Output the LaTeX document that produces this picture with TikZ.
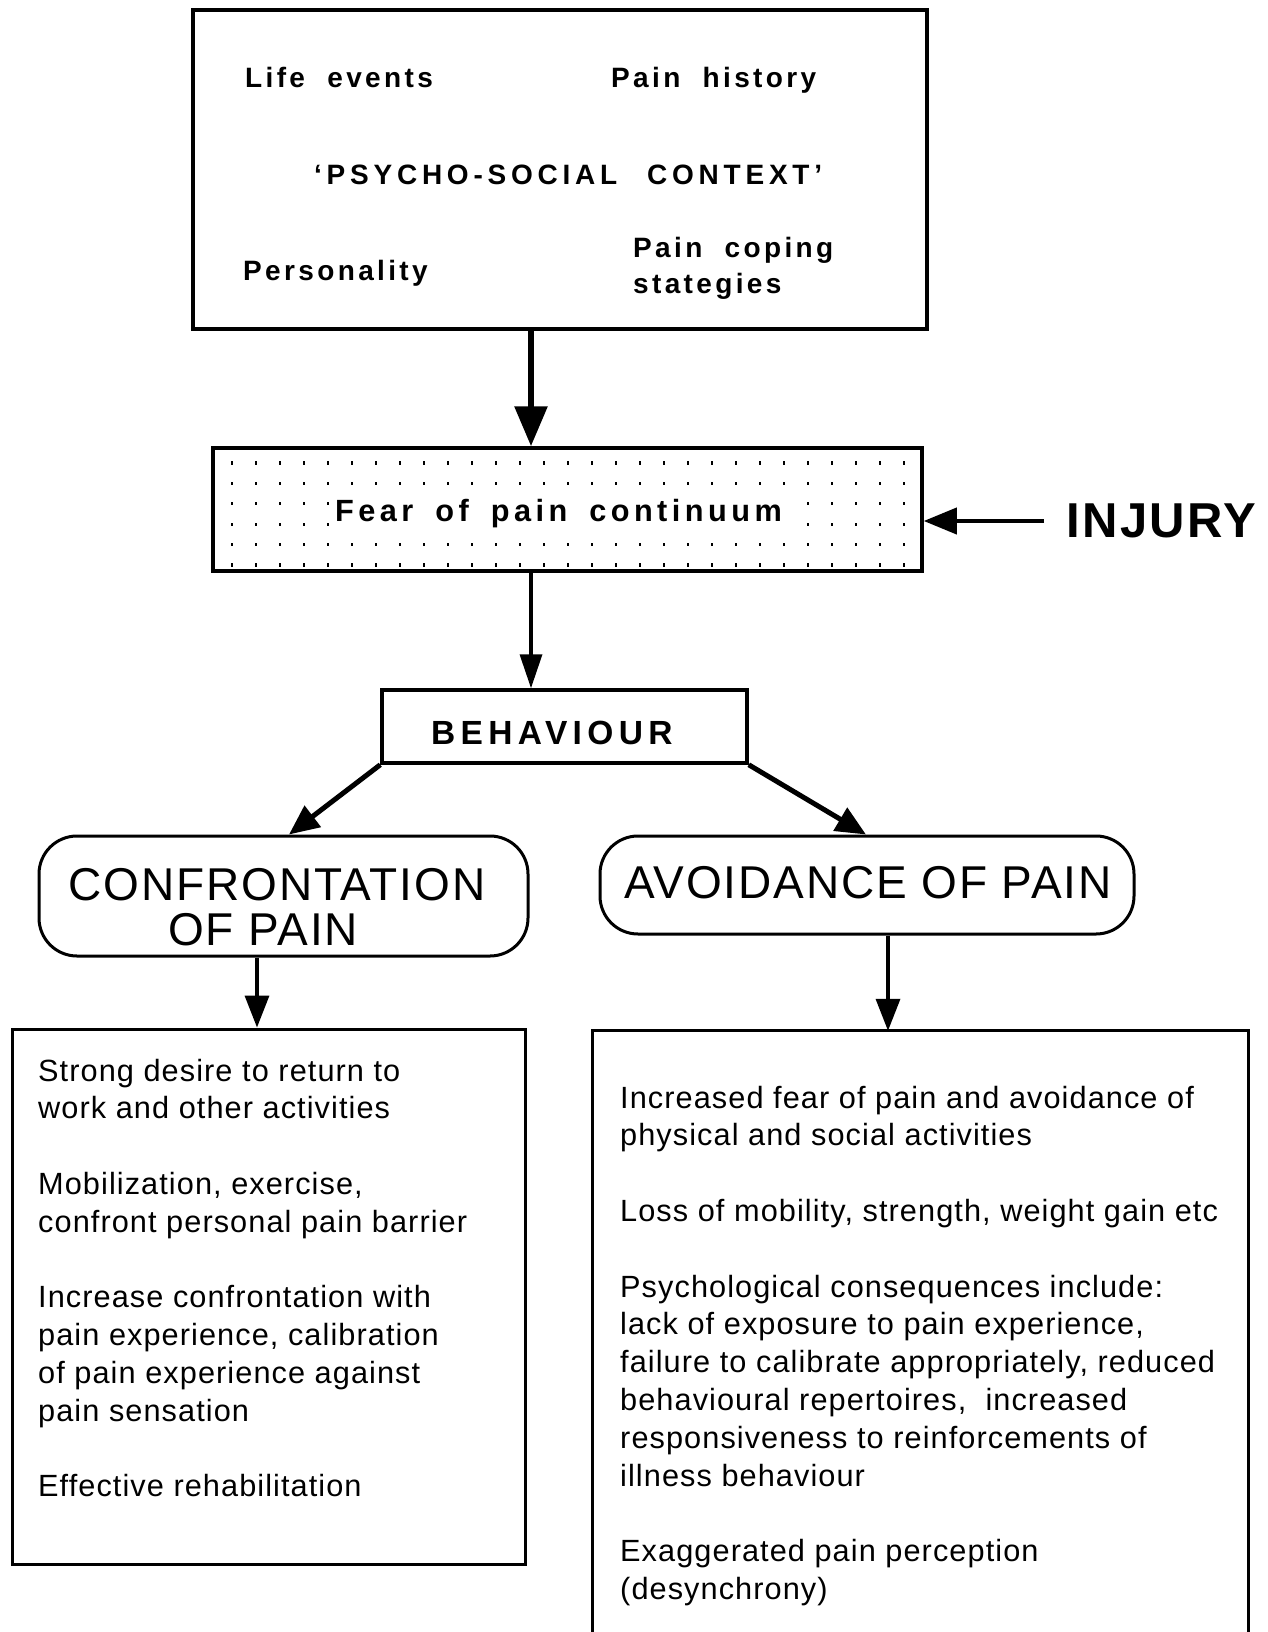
\documentclass[tikz,border=0pt]{standalone}
\usepackage{fontspec}
\setmainfont{Liberation Sans}
\newfontfamily\topfont[LetterSpace=12,WordSpace=2]{Liberation Sans}
\newfontfamily\psyfont[LetterSpace=17]{Liberation Sans}
\newfontfamily\fearfont[LetterSpace=14.5]{Liberation Sans}
\newfontfamily\behfont[LetterSpace=16]{Liberation Sans}
\newfontfamily\injfont[LetterSpace=5]{Liberation Sans}
\newfontfamily\roundfont[LetterSpace=4]{Liberation Sans}
\newfontfamily\bodyfont[LetterSpace=3.5]{Liberation Sans}
\usetikzlibrary{arrows.meta}
\newcommand\bl[1]{\hbox{#1}}
\newcommand\gp{\vskip37.8pt}
\tikzset{
  frame/.style={draw, line width=3.5pt, inner sep=0pt},
  roundbox/.style={draw, line width=3pt, inner sep=0pt, rounded corners=38pt},
  txt/.style={inner sep=0pt, anchor=base west},
  toptxt/.style={txt, font=\topfont\bfseries\fontsize{28}{34}\selectfont},
  bodytxt/.style={txt, font=\bodyfont\fontsize{30.7}{37.8}\selectfont},
  roundtxt/.style={inner sep=0pt, anchor=base, font=\roundfont\fontsize{46}{44}\selectfont},
  arr/.style={line width=3.5pt, -{Triangle[length=32pt,width=24pt]}},
  diagarr/.style={line width=5pt, -{Triangle[length=30pt,width=26pt]}},
}
\begin{document}
\begin{tikzpicture}[x=1pt,y=-1pt]
\useasboundingbox (0,0) rectangle (1267,1632);
\fill[white] (0,0) rectangle (1267,1632);

% boxes
\node[frame, minimum width=734pt, minimum height=319pt] (ctx) at (560,169.5) {};
\node[frame, minimum width=709pt, minimum height=123pt] (fear) at (567.5,509.5) {};
\node[frame, minimum width=365pt, minimum height=73pt] (beh) at (564.5,726.5) {};
\node[roundbox, minimum width=489pt, minimum height=120pt] (conf) at (283.5,896) {};
\node[roundbox, minimum width=534pt, minimum height=98pt] (avoid) at (867,885) {};
\node[frame, line width=3pt, minimum width=513pt, minimum height=535pt] (lb) at (268.5,1296.5) {};
\node[inner sep=0pt, minimum width=655pt, minimum height=601pt] (rb) at (920.5,1331.5) {};
\draw[line width=3pt] (rb.south west) -- (rb.north west) -- (rb.north east) -- (rb.south east);

% dotted fill of the fear box
\foreach \i in {0,...,28}{\foreach \j in {0,...,5}{
  \fill ({232+24*\i-0.8},{463+20.4*\j-1.6}) rectangle ++(1.6,3.2);}}

% texts in the context box
\node[toptxt] (le) at (245,88) {Life events};
\node[toptxt] (ph) at (611,88) {Pain history};
\node[txt, font=\psyfont\bfseries\fontsize{28}{34}\selectfont] (ps) at (314,185) {‘PSYCHO-SOCIAL\hskip30pt CONTEXT’};
\node[toptxt] (pe) at (243,280) {Personality};
\node[toptxt] (pc) at (633,257) {\vtop{\baselineskip=36pt \bl{Pain coping}\bl{stategies}}};

% fear text
\node[anchor=base west, inner xsep=6pt, inner ysep=5pt, fill=white,
      font=\fearfont\bfseries\fontsize{30.7}{36}\selectfont] (ft) at (329,521)
      {Fear\hskip22pt of\hskip22pt pain\hskip22pt continuum};

% injury
\node[txt, font=\injfont\bfseries\fontsize{49}{56}\selectfont] (inj) at (1066,537) {INJURY};

% behaviour
\node[txt, font=\behfont\bfseries\fontsize{33.5}{40}\selectfont] (bt) at (431,744) {BEHAVIOUR};

% rounded box texts
\node[roundtxt] (ct) at (277,900) {\vtop{\baselineskip=45pt
  \hbox to 0pt{\hss CONFRONTATION\hss}\hbox to 0pt{\hss OF PAIN\kern28pt\hss}}};
\node[roundtxt] (at) at (868,898) {AVOIDANCE OF PAIN};

% body texts
\node[bodytxt] (lt) at (38,1081) {\vtop{\baselineskip=37.8pt
  \bl{Strong desire to return to}\bl{work and other activities}\gp
  \bl{Mobilization, exercise,}\bl{confront personal pain barrier}\gp
  \bl{Increase confrontation with}\bl{pain experience, calibration}\bl{of pain experience against}\bl{pain sensation}\gp
  \bl{Effective rehabilitation}}};
\node[bodytxt] (rt) at (620,1108) {\vtop{\baselineskip=37.8pt
  \bl{Increased fear of pain and avoidance of}\bl{physical and social activities}\gp
  \bl{Loss of mobility, strength, weight gain etc}\gp
  \bl{Psychological consequences include:}\bl{lack of exposure to pain experience,}\bl{failure to calibrate appropriately, reduced}\bl{behavioural repertoires,\ \ increased}\bl{responsiveness to reinforcements of}\bl{illness behaviour}\gp
  \bl{Exaggerated pain perception}\bl{(desynchrony)}}};

% connectors
\coordinate (a1) at (531,0);
\coordinate (c1) at (289,0);
\coordinate (c2) at (866,0);
\coordinate (c3) at (257,0);
\coordinate (c4) at (888,0);
\coordinate (inj0) at (1044,521);
\draw[line width=6pt, -{Triangle[length=40pt,width=32pt]}] (ctx.south -| a1) -- (fear.north -| a1);
\draw[arr, -{Triangle[length=34pt,width=22pt]}] (fear.south -| a1) -- (beh.north -| a1);
\draw[diagarr] (beh.south west) -- (conf.north -| c1);
\draw[diagarr] (beh.south east) -- (avoid.north -| c2);
\draw[arr] (conf.south -| c3) -- (lb.north -| c3);
\draw[arr] (avoid.south -| c4) -- (rb.north -| c4);
\draw[line width=4pt, -{Triangle[length=33pt,width=26pt]}] (inj0) -- (fear.east |- inj0);
\end{tikzpicture}
\end{document}
